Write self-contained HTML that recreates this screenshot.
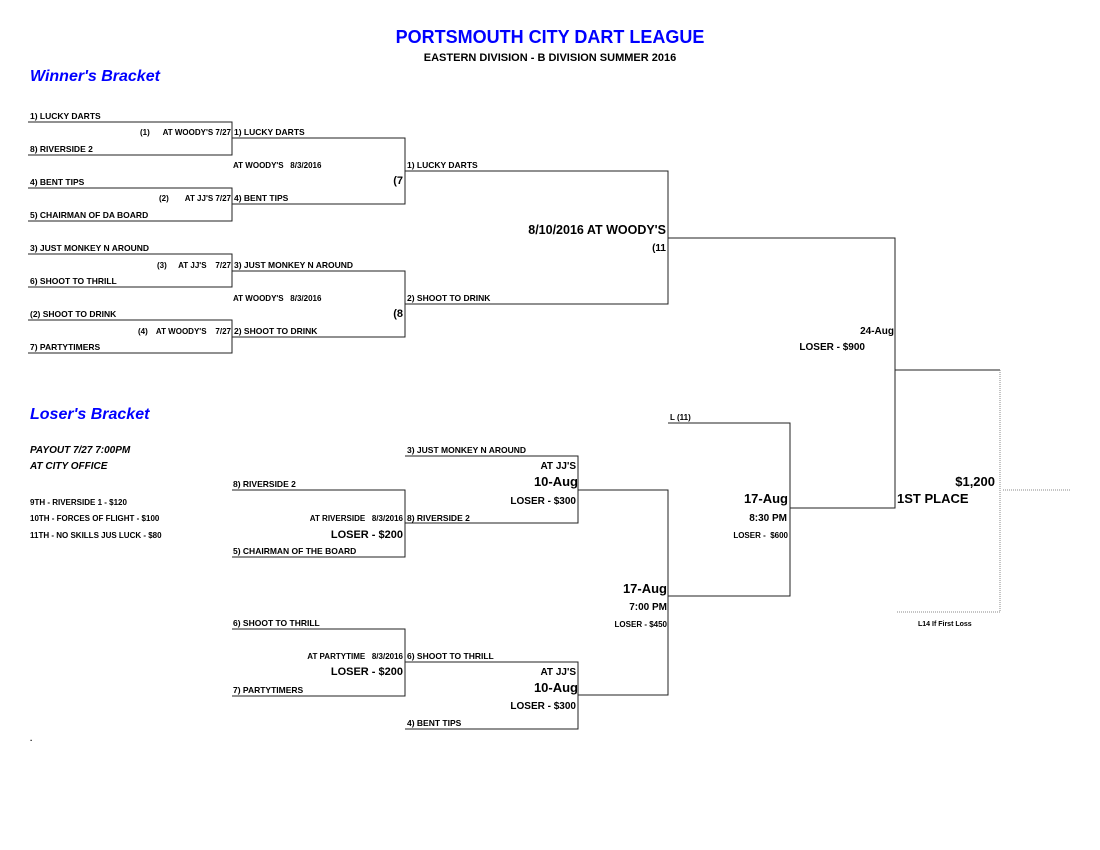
<!DOCTYPE html>
<html><head><meta charset="utf-8"><style>
html,body{margin:0;padding:0;background:#fff;width:1100px;height:850px;overflow:hidden}
svg{display:block}
text{font-family:"Liberation Sans",Arial,sans-serif;font-weight:bold;fill:#000}
.s{font-size:8.5px}.m{font-size:8px}.b{fill:#0000ff}
</style></head><body>
<svg width="1100" height="850" viewBox="0 0 1100 850" xmlns="http://www.w3.org/2000/svg">
<g stroke="#222" stroke-width="1" fill="none" shape-rendering="crispEdges">
<path d="M28 122H232V155H28"/><path d="M28 188H232V221H28"/>
<path d="M28 254H232V287H28"/><path d="M28 320H232V353H28"/>
<path d="M232 138H405V204H232"/><path d="M232 271H405V337H232"/>
<path d="M405 171H668V304H405"/>
<path d="M668 238H895V508H790"/>
<path d="M895 370H1000"/>
<path d="M232 490H405V557H232"/><path d="M405 456H578V523H405"/>
<path d="M232 629H405V696H232"/><path d="M405 662H578V729H405"/>
<path d="M578 490H668V695H578"/>
<path d="M668 423H790V596H668"/>
</g>
<g stroke="#888" stroke-width="1" fill="none" stroke-dasharray="1,1" shape-rendering="crispEdges">
<path d="M1000 370V612H897"/><path d="M1003 490H1070"/>
</g>
<text x="550" y="43" text-anchor="middle" class="b" style="font-size:18px">PORTSMOUTH CITY DART LEAGUE</text>
<text x="550" y="61" text-anchor="middle" style="font-size:11px">EASTERN DIVISION - B DIVISION SUMMER 2016</text>
<text x="30" y="81" class="b" style="font-size:16px;font-style:italic">Winner's Bracket</text>
<text x="30" y="419" class="b" style="font-size:16px;font-style:italic">Loser's Bracket</text>

<g class="s">
<text x="30" y="119" class="s">1) LUCKY DARTS</text>
<text x="30" y="152" class="s">8) RIVERSIDE 2</text>
<text x="30" y="185" class="s">4) BENT TIPS</text>
<text x="30" y="218" class="s">5) CHAIRMAN OF DA BOARD</text>
<text x="30" y="251" class="s">3) JUST MONKEY N AROUND</text>
<text x="30" y="284" class="s">6) SHOOT TO THRILL</text>
<text x="30" y="317" class="s">(2) SHOOT TO DRINK</text>
<text x="30" y="350" class="s">7) PARTYTIMERS</text>

<text x="140" y="135" class="m">(1)</text><text x="231" y="135" class="m" text-anchor="end">AT WOODY'S  7/27</text>
<text x="159" y="201" class="m">(2)</text><text x="231" y="201" class="m" text-anchor="end">AT JJ'S 7/27</text>
<text x="157" y="268" class="m">(3)</text><text x="231" y="268" class="m" text-anchor="end" xml:space="preserve">AT JJ'S    7/27</text>
<text x="138" y="334" class="m">(4)</text><text x="231" y="334" class="m" text-anchor="end" xml:space="preserve">AT WOODY'S    7/27</text>

<text x="234" y="135" class="s">1) LUCKY DARTS</text>
<text x="234" y="201" class="s">4) BENT TIPS</text>
<text x="234" y="268" class="s">3) JUST MONKEY N AROUND</text>
<text x="234" y="334" class="s">2) SHOOT TO DRINK</text>
<text x="233" y="168" class="m" xml:space="preserve">AT WOODY'S   8/3/2016</text>
<text x="233" y="301" class="m" xml:space="preserve">AT WOODY'S   8/3/2016</text>
<text x="403" y="184" text-anchor="end" style="font-size:11px">(7</text>
<text x="403" y="317" text-anchor="end" style="font-size:11px">(8</text>

<text x="407" y="168" class="s">1) LUCKY DARTS</text>
<text x="407" y="301" class="s">2) SHOOT TO DRINK</text>
<text x="666" y="234" text-anchor="end" style="font-size:12.5px">8/10/2016 AT WOODY'S</text>
<text x="666" y="251" text-anchor="end" style="font-size:10px">(11</text>
<text x="894" y="334" text-anchor="end" style="font-size:10px">24-Aug</text>
<text x="865" y="350" text-anchor="end" style="font-size:10px">LOSER - $900</text>

<text x="30" y="453" style="font-size:10px;font-style:italic">PAYOUT 7/27 7:00PM</text>
<text x="30" y="469" style="font-size:10px;font-style:italic">AT CITY OFFICE</text>
<text x="30" y="505" class="m">9TH - RIVERSIDE 1 - $120</text>
<text x="30" y="521" class="m">10TH - FORCES OF FLIGHT - $100</text>
<text x="30" y="538" class="m">11TH - NO SKILLS JUS LUCK - $80</text>

<text x="233" y="487" class="s">8) RIVERSIDE 2</text>
<text x="403" y="521" text-anchor="end" class="m" xml:space="preserve">AT RIVERSIDE   8/3/2016</text>
<text x="403" y="538" text-anchor="end" style="font-size:11px">LOSER - $200</text>
<text x="233" y="554" class="s">5) CHAIRMAN OF THE BOARD</text>
<text x="407" y="453" class="s">3) JUST MONKEY N AROUND</text>
<text x="576" y="469" text-anchor="end" style="font-size:10px">AT JJ'S</text>
<text x="578" y="486" text-anchor="end" style="font-size:13px">10-Aug</text>
<text x="576" y="504" text-anchor="end" style="font-size:10px">LOSER - $300</text>
<text x="407" y="521" class="s">8) RIVERSIDE 2</text>

<text x="233" y="626" class="s">6) SHOOT TO THRILL</text>
<text x="403" y="659" text-anchor="end" class="m" xml:space="preserve">AT PARTYTIME   8/3/2016</text>
<text x="403" y="675" text-anchor="end" style="font-size:11px">LOSER - $200</text>
<text x="233" y="693" class="s">7) PARTYTIMERS</text>
<text x="407" y="659" class="s">6) SHOOT TO THRILL</text>
<text x="576" y="675" text-anchor="end" style="font-size:10px">AT JJ'S</text>
<text x="578" y="692" text-anchor="end" style="font-size:13px">10-Aug</text>
<text x="576" y="709" text-anchor="end" style="font-size:10px">LOSER - $300</text>
<text x="407" y="726" class="s">4) BENT TIPS</text>

<text x="667" y="593" text-anchor="end" style="font-size:13px">17-Aug</text>
<text x="667" y="610" text-anchor="end" style="font-size:10px">7:00 PM</text>
<text x="667" y="627" text-anchor="end" class="m">LOSER - $450</text>
<text x="670" y="420" class="m">L (11)</text>
<text x="788" y="503" text-anchor="end" style="font-size:13px">17-Aug</text>
<text x="787" y="521" text-anchor="end" style="font-size:10px">8:30 PM</text>
<text x="788" y="538" text-anchor="end" class="m" xml:space="preserve">LOSER -  $600</text>
<text x="995" y="486" text-anchor="end" style="font-size:13px">$1,200</text>
<text x="897" y="503" style="font-size:13px">1ST PLACE</text>
<text x="918" y="626" style="font-size:7px">L14 If First Loss</text>
<text x="30" y="741" style="font-size:8px">.</text>
</g>
</svg>
</body></html>
